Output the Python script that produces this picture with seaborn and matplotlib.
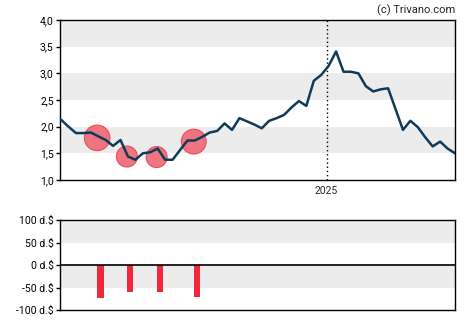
import matplotlib
matplotlib.use("Agg")
import matplotlib.pyplot as plt
import matplotlib.dates as mdates
from matplotlib.ticker import FixedLocator, FuncFormatter
import seaborn as sns
import pandas as pd
import numpy as np

# Weekly closing prices
dates = pd.date_range("2024-04-26", periods=54, freq="W-FRI")
prices = [
    2.13, 2.00, 1.88, 1.88, 1.89, 1.82, 1.75, 1.64, 1.75, 1.44,
    1.38, 1.50, 1.52, 1.59, 1.38, 1.38, 1.56, 1.74, 1.74, 1.81,
    1.89, 1.92, 2.06, 1.94, 2.16, 2.10, 2.04, 1.97, 2.11, 2.16,
    2.22, 2.36, 2.48, 2.39, 2.86, 2.97, 3.14, 3.41, 3.03, 3.03,
    3.00, 2.76, 2.66, 2.70, 2.72, 2.33, 1.94, 2.11, 1.99, 1.80,
    1.63, 1.72, 1.59, 1.50,
]

# Insider transactions (sales)
trade_dates = pd.to_datetime(["2024-05-30", "2024-06-27", "2024-07-25", "2024-08-29"])
trade_prices = [1.79, 1.44, 1.43, 1.72]
trade_values = [-73, -60, -60, -71]

price_ticks = [1.0, 1.5, 2.0, 2.5, 3.0, 3.5, 4.0]
value_ticks = [-100, -50, 0, 50, 100]

LINE = "#0f3b5a"
BAND = "#ececec"
RED = "#f0283c"
BUBBLE = "#ef6f7a"

df_price = pd.DataFrame({"date": dates, "price": prices})
df_trade = pd.DataFrame({"date": trade_dates, "price": trade_prices,
                         "value": trade_values})

sns.set_style("white")
plt.rcParams["font.family"] = ["Roboto", "DejaVu Sans"]

fig = plt.figure(figsize=(4.7, 3.25), dpi=100)
ax = fig.add_axes([60 / 470, 1 - 180 / 325, 395 / 470, 160 / 325])
ax2 = fig.add_axes([60 / 470, 1 - 310 / 325, 395 / 470, 90 / 325])

xmin = dates[0] - pd.Timedelta(days=1)
xmax = dates[-1]

# --- price panel ---
for lo, hi in [(1.5, 2.0), (2.5, 3.0), (3.5, 4.0)]:
    ax.axhspan(lo, hi, color=BAND, lw=0, zorder=0)

ax.axvline(pd.Timestamp("2025-01-01"), color="black", ls=(0, (1, 2)), lw=1, zorder=1)

sizes = [(0.35 * abs(v) * 0.72) ** 2 for v in trade_values]
sns.scatterplot(data=df_trade, x="date", y="price", s=sizes, color=BUBBLE,
                edgecolor="#e84a58", linewidth=0.8, alpha=0.95, zorder=2,
                ax=ax, legend=False)
sns.lineplot(data=df_price, x="date", y="price", color=LINE, lw=1.8,
             zorder=3, ax=ax)

ax.set_xlim(xmin, xmax)
ax.set_ylim(1.0, 4.0)
ax.yaxis.set_major_locator(FixedLocator(price_ticks))
ax.yaxis.set_major_formatter(FuncFormatter(lambda v, p: f"{v:.1f}".replace(".", ",")))
ax.xaxis.set_major_locator(FixedLocator([mdates.date2num(pd.Timestamp("2025-01-01"))]))
ax.xaxis.set_major_formatter(FuncFormatter(lambda v, p: "2025"))
ax.set_xlabel("")
ax.set_ylabel("")

ax.text(1.0, 1.025, "(c) Trivano.com", transform=ax.transAxes, ha="right",
        va="bottom", fontsize=8, color="#222222")

# --- transaction panel ---
for lo, hi in [(-50, 0), (50, 100)]:
    ax2.axhspan(lo, hi, color=BAND, lw=0, zorder=0)
ax2.axhline(0, color="black", lw=1.2, zorder=3)
ax2.bar(mdates.date2num(trade_dates), trade_values, width=6.0, align="edge",
        color=RED, lw=0, zorder=2)
ax2.set_xlim(xmin, xmax)
ax2.set_ylim(-100, 100)
ax2.yaxis.set_major_locator(FixedLocator(value_ticks))
ax2.yaxis.set_major_formatter(FuncFormatter(lambda v, p: f"{int(v)} d.$"))
ax2.set_xticks([])

for a in (ax, ax2):
    for s in a.spines.values():
        s.set_visible(True)
        s.set_color("black")
        s.set_linewidth(1.0)
    a.tick_params(axis="y", which="major", left=True, length=3, width=1,
                  labelsize=7.5, pad=1.5, colors="black")
    a.tick_params(axis="x", length=3, width=1, labelsize=7.5, pad=1.5)
    a.grid(False)

fig.savefig("out.png", dpi=100)
